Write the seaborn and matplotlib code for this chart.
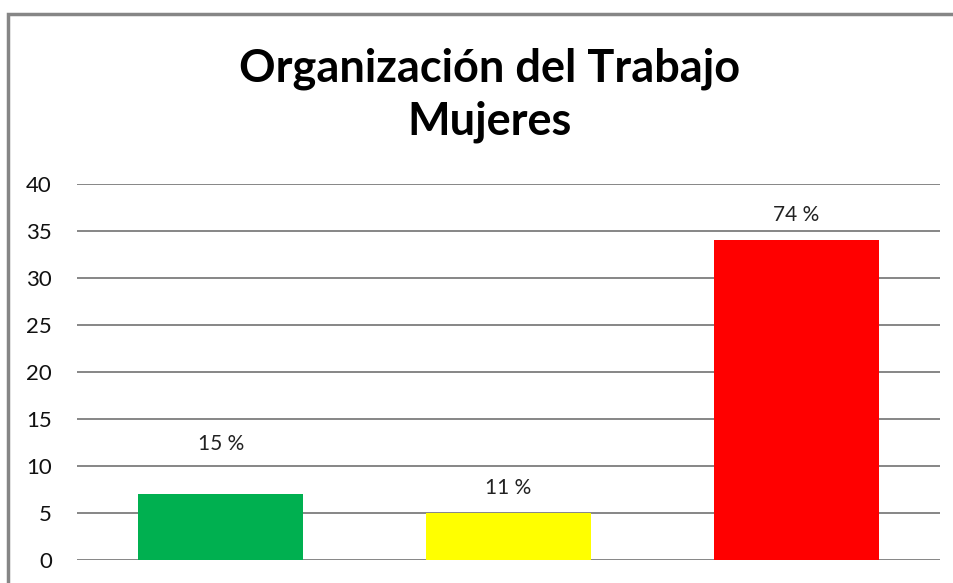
import numpy as np
import pandas as pd
import matplotlib
matplotlib.use("Agg")
import matplotlib.pyplot as plt
import seaborn as sns
from matplotlib.patches import Rectangle

# data
categories = ["Adecuada", "Regular", "Inadecuada"]
values = [7, 5, 34]
labels = ["15 %", "11 %", "74 %"]
colors = ["#00b050", "#ffff00", "#ff0000"]
label_gap = [5.3, 2.7, 2.7]

df = pd.DataFrame({"cat": categories, "val": values})

sns.set_style("white")
plt.rcParams['font.family'] = ['Lato', 'DejaVu Sans']

fig = plt.figure(figsize=(9.54, 5.83), dpi=100)
ax = fig.add_axes([77 / 954, 23 / 583, 863 / 954, 376 / 583])

sns.barplot(data=df, x="cat", y="val", hue="cat", palette=colors,
            width=0.574, legend=False, ax=ax, saturation=1, linewidth=0)

ax.set_ylim(0, 40)
ax.set_yticks(np.arange(0, 41, 5))
ax.yaxis.grid(True, color="#868686", linewidth=1.4)
ax.set_axisbelow(True)
for s in ax.spines.values():
    s.set_visible(False)
ax.set_xlabel("")
ax.set_ylabel("")
ax.set_xticks([])
ax.tick_params(axis="y", length=0, pad=18, labelsize=16, labelcolor="#111111")

for i, (v, lab) in enumerate(zip(values, labels)):
    ax.text(i, v + label_gap[i], lab, ha="center", va="center",
            fontsize=15, color="#222222")

fig.text(490 / 954, 1 - 95 / 583, "Organización del Trabajo\nMujeres",
         ha="center", va="center", fontsize=32.5, fontweight="bold",
         linespacing=1.3, color="black")

# outer chart border
fig.patches.append(Rectangle((8.5 / 954, -0.1), 2.0, (583 - 13.5) / 583 + 0.1,
                             transform=fig.transFigure, fill=False,
                             edgecolor="#868686", linewidth=2.5))

fig.savefig("out.png", dpi=100)
